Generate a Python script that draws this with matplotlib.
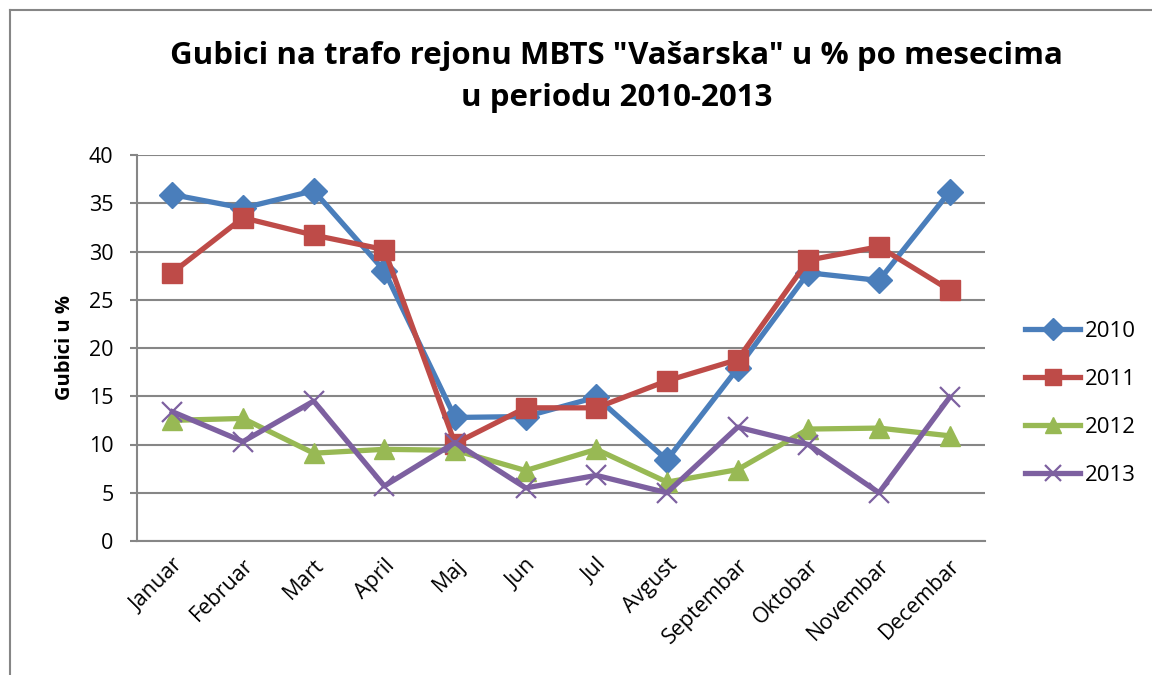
import numpy as np
import matplotlib.pyplot as plt
from matplotlib.lines import Line2D

months = ["Januar", "Februar", "Mart", "April", "Maj", "Jun", "Jul",
          "Avgust", "Septembar", "Oktobar", "Novembar", "Decembar"]
years = ["2010", "2011", "2012", "2013"]

g2010 = [35.9, 34.5, 36.3, 28.0, 12.8, 12.9, 14.9, 8.4, 17.9, 27.8, 27.0, 36.2]
g2011 = [27.8, 33.5, 31.7, 30.2, 10.1, 13.8, 13.8, 16.6, 18.8, 29.1, 30.5, 26.0]
g2012 = [12.5, 12.7, 9.1, 9.5, 9.4, 7.3, 9.5, 6.1, 7.4, 11.6, 11.7, 10.9]
g2013 = [13.4, 10.3, 14.5, 5.7, 10.2, 5.5, 6.8, 5.0, 11.8, 10.0, 5.0, 14.9]

colors = ["#4A7EBB", "#BE4B48", "#98B954", "#7D60A0"]
markers = ["D", "s", "^", "x"]
msizes = [13, 14, 14, 14]

plt.rcParams['font.family'] = ['Open Sans', 'DejaVu Sans']

fig = plt.figure(figsize=(11.52, 6.75), dpi=100)
ax = fig.add_axes([137/1152, 1 - 541/675, (985-137)/1152, (541-155)/675])

x = np.arange(len(months))
series = [g2010, g2011, g2012, g2013]
for s, c, m, ms, lab in zip(series, colors, markers, msizes, years):
    ax.plot(x, s, color=c, lw=3.8, marker=m, ms=ms, mew=1.6 if m == "x" else 1,
            mec=c, mfc=c, label=lab)

ax.set_xlim(-0.5, 11.5)
ax.set_ylim(0, 40)
ax.set_yticks(np.arange(0, 41, 5))
ax.set_xticks(x)
ax.set_xticklabels(months, rotation=45, ha="right", rotation_mode="anchor", fontsize=15.5)
ax.tick_params(axis="y", labelsize=15.5, length=5, color="#868686", width=1.5, pad=12)
ax.tick_params(axis="x", length=0, pad=10)
ax.grid(axis="y", color="#868686", lw=1.5)
ax.set_axisbelow(True)
for side in ["top", "right"]:
    ax.spines[side].set_visible(False)
for side in ["left", "bottom"]:
    ax.spines[side].set_color("#868686")
    ax.spines[side].set_linewidth(1.5)

ax.set_ylabel("Gubici u %", fontsize=14.5, fontweight="bold", labelpad=10)

fig.text(0.535, 0.886, "Gubici na trafo rejonu MBTS \"Vašarska\" u % po mesecima\nu periodu 2010-2013",
         ha="center", va="center", fontsize=22.5, fontweight="bold", linespacing=1.55)

leg = ax.legend(loc="center left", bbox_to_anchor=(1.047, 0.357), frameon=False,
                fontsize=16, handlelength=2.5, labelspacing=1.22, handletextpad=0.2,
                borderaxespad=0, borderpad=0, markerscale=0.85)

# outer chart border
fig.add_artist(Line2D([10/1152, 10/1152], [0, 1 - 10/675], color="#868686", lw=1.5))
fig.add_artist(Line2D([10/1152, 1], [1 - 10/675, 1 - 10/675], color="#868686", lw=1.5))

fig.savefig("out.png", dpi=100)
